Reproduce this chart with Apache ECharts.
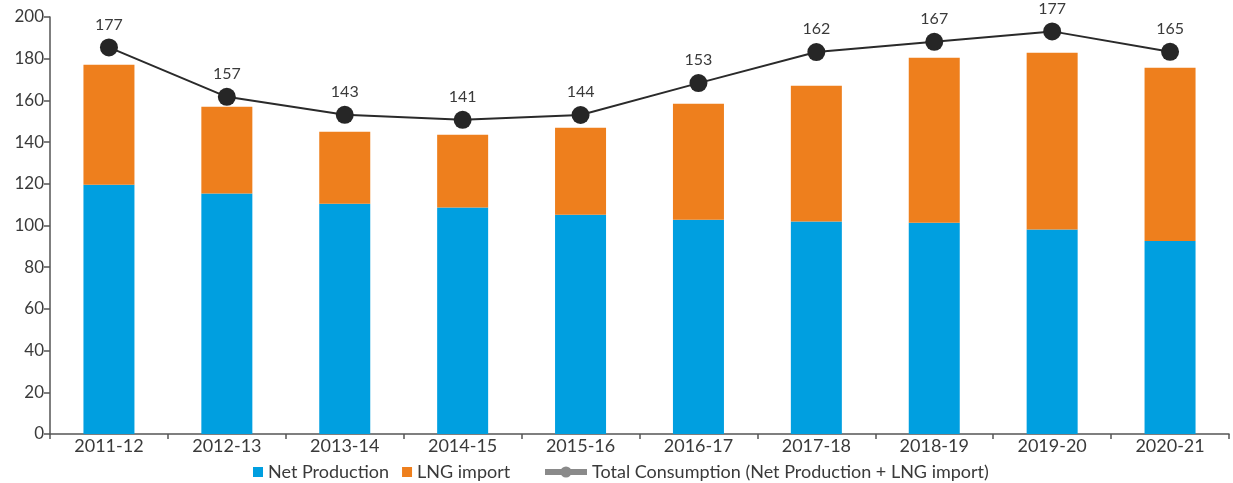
<!DOCTYPE html>
<html>
<head>
<meta charset="utf-8">
<script src="https://cdn.jsdelivr.net/npm/echarts@6/dist/echarts.min.js"></script>
<style>
html,body{margin:0;padding:0;background:#fff;}
#chart{width:1233px;height:483px;}
</style>
</head>
<body>
<div id="chart"></div>
<script>
const categories = ['2011-12','2012-13','2013-14','2014-15','2015-16','2016-17','2017-18','2018-19','2019-20','2020-21'];
const netProduction = [119.5,115.3,110.4,108.6,105.1,102.7,101.9,101.3,98.1,92.6];
const lngImport = [57.6,41.7,34.6,34.9,41.8,55.7,65.1,79.2,84.8,83.1];
// positions at which the consumption markers are drawn in the reference
const totalConsumptionPlot = [185.4,161.7,153.1,150.7,153.0,168.3,183.2,188.1,193.1,183.3];
// values printed above the markers
const totalConsumptionLabels = [177,157,143,141,144,153,162,167,177,165];
const yTicks = {min:0, max:200, interval:20};

const FONT = 'Lato, "Open Sans", "Noto Sans", sans-serif';
const TXT = '#3a3a3a';
const lineName = 'Total Consumption (Net Production + LNG import)';

const chart = echarts.init(document.getElementById('chart'));
chart.setOption({
  animation:false,
  textStyle:{fontFamily:FONT},
  grid:{left:50,right:4,top:17,bottom:49},
  legend:[
    {data:['Net Production','LNG import'], left:248, top:458, itemWidth:10, itemHeight:10, itemGap:13,
     icon:'rect', textStyle:{fontFamily:FONT,fontSize:18,color:TXT}},
    {data:[{name:lineName, itemStyle:{color:'#8a8a8a'}, lineStyle:{color:'#8a8a8a',width:6}}],
     left:537, top:458, itemWidth:42, itemHeight:14,
     textStyle:{fontFamily:FONT,fontSize:18,color:TXT}}
  ],
  xAxis:{
    type:'category', data:categories, boundaryGap:true,
    axisLine:{lineStyle:{color:'#555',width:1.5}},
    axisTick:{show:true,length:5,lineStyle:{color:'#555',width:1.5}},
    axisLabel:{fontFamily:FONT,fontSize:18,color:TXT,margin:3}
  },
  yAxis:{
    type:'value', min:yTicks.min, max:yTicks.max, interval:yTicks.interval,
    splitLine:{show:false},
    axisLine:{show:true,lineStyle:{color:'#555',width:1.5}},
    axisTick:{show:true,length:6,inside:false,lineStyle:{color:'#555',width:1.5}},
    axisLabel:{fontFamily:FONT,fontSize:17,color:TXT,margin:6}
  },
  series:[
    {name:'Net Production', type:'bar', stack:'t', data:netProduction, barWidth:51,
     itemStyle:{color:'#009FE0'}},
    {name:'LNG import', type:'bar', stack:'t', data:lngImport, barWidth:51,
     itemStyle:{color:'#EE7F1D'}},
    {name:lineName, type:'line', data:totalConsumptionPlot, symbol:'circle', symbolSize:18,
     itemStyle:{color:'#262626'}, lineStyle:{color:'#2a2a2a',width:2},
     label:{show:true, position:'top', distance:6, fontFamily:FONT, fontSize:16, color:TXT,
       formatter:p=>String(totalConsumptionLabels[p.dataIndex])}}
  ]
});
</script>
</body>
</html>
